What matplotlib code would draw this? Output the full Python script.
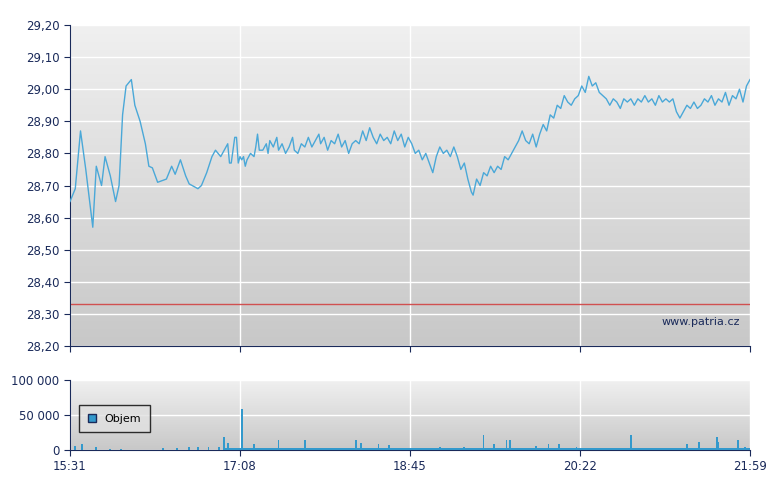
import matplotlib
matplotlib.use("Agg")
import matplotlib.pyplot as plt
import numpy as np

price_min = [0,3,6,9,13,15,18,20,23,26,28,30,32,35,37,40,43,45,47,50,55,58,60,63,66,68,73,75,78,81,83,86,89,90,91,92,93,94,95,96,97,98,99,100,101,103,105,106,107,108,110,112,113,114,116,118,119,121,123,125,127,128,130,132,134,136,138,140,142,143,145,147,149,151,153,155,157,159,161,163,165,167,169,171,173,175,177,179,181,183,185,187,189,191,193,195,197,199,201,203,205,207,209,211,213,215,217,219,221,223,225,227,229,230,232,234,236,238,240,242,244,246,248,250,252,254,256,258,260,262,264,266,268,270,272,274,276,278,280,282,284,286,288,290,292,294,296,298,300,302,304,306,308,310,312,314,316,318,320,322,324,326,328,330,332,334,336,338,340,342,344,346,348,350,352,354,356,358,360,362,364,366,368,370,372,374,376,378,380,382,384,386,388]
price_val = [28.65,28.69,28.87,28.75,28.57,28.76,28.70,28.79,28.73,28.65,28.70,28.92,29.01,29.03,28.95,28.90,28.83,28.76,28.755,28.71,28.72,28.76,28.735,28.78,28.73,28.705,28.69,28.70,28.74,28.79,28.81,28.79,28.82,28.83,28.77,28.77,28.81,28.85,28.85,28.77,28.79,28.78,28.79,28.76,28.78,28.80,28.79,28.82,28.86,28.81,28.81,28.83,28.80,28.84,28.82,28.85,28.81,28.83,28.80,28.82,28.85,28.81,28.80,28.83,28.82,28.85,28.82,28.84,28.86,28.83,28.85,28.81,28.84,28.83,28.86,28.82,28.84,28.80,28.83,28.84,28.83,28.87,28.84,28.88,28.85,28.83,28.86,28.84,28.85,28.83,28.87,28.84,28.86,28.82,28.85,28.83,28.80,28.81,28.78,28.80,28.77,28.74,28.79,28.82,28.80,28.81,28.79,28.82,28.79,28.75,28.77,28.72,28.68,28.67,28.72,28.70,28.74,28.73,28.76,28.74,28.76,28.75,28.79,28.78,28.80,28.82,28.84,28.87,28.84,28.83,28.86,28.82,28.86,28.89,28.87,28.92,28.91,28.95,28.94,28.98,28.96,28.95,28.97,28.98,29.01,28.99,29.04,29.01,29.02,28.99,28.98,28.97,28.95,28.97,28.96,28.94,28.97,28.96,28.97,28.95,28.97,28.96,28.98,28.96,28.97,28.95,28.98,28.96,28.97,28.96,28.97,28.93,28.91,28.93,28.95,28.94,28.96,28.94,28.95,28.97,28.96,28.98,28.95,28.97,28.96,28.99,28.95,28.98,28.97,29.00,28.96,29.01,29.03]

vol_min = [3,7,15,23,29,53,61,68,73,79,85,88,90,98,105,119,134,163,166,176,182,211,225,236,242,249,251,266,273,279,289,320,352,359,369,370,381,385]
vol_val = [6000,8000,5000,2000,2000,2500,3000,4000,5000,5000,5000,18000,10000,58000,8000,15000,15000,15000,10000,8000,7000,4000,5000,22000,9000,15000,15000,6000,8000,9000,5000,22000,9000,12000,18000,11000,15000,5000]
base_start, base_end, base_level = [88], [388], [3000]

ref_price = 28.33
xticks = [0, 97, 194, 291, 388]
xlabels = ["15:31", "17:08", "18:45", "20:22", "21:59"]
yticks = [28.2,28.3,28.4,28.5,28.6,28.7,28.8,28.9,29.0,29.1,29.2]
vticks = [0, 50000, 100000]

navy = "#1a2a5a"
lc = "#4aa8d8"
fig = plt.figure(figsize=(7.8, 4.9), dpi=100)
ax = fig.add_axes([70/780, 1-346/490, 680/780, 321/490])
ax2 = fig.add_axes([70/780, 1-450/490, 680/780, 70/490])

grad = np.linspace(0, 1, 256).reshape(-1, 1)
from matplotlib.colors import LinearSegmentedColormap
cm = LinearSegmentedColormap.from_list("g", ["#f0f0f0", "#c8c8c8"])
for a in (ax, ax2):
    a.imshow(grad, aspect="auto", cmap=cm, extent=[0, 1, 0, 1], transform=a.transAxes, zorder=0)
    a.set_xlim(0, 388)
    a.set_xticks(xticks)
    a.grid(True, color="white", lw=1, zorder=1)
    for s in ("top", "right"):
        a.spines[s].set_visible(False)
    a.spines["left"].set_color(navy)
    a.spines["bottom"].set_color(navy)
    a.tick_params(colors=navy, labelcolor=navy, labelsize=8.5, length=4)

ax.plot(price_min, price_val, color=lc, lw=1, zorder=3)
ax.axhline(ref_price, color="#d05050", lw=1, zorder=2)
ax.set_ylim(28.2, 29.2)
ax.set_yticks(yticks)
ax.set_yticklabels([f"{v:.2f}".replace(".", ",") for v in yticks])
ax.set_xticklabels([])
ax.text(0.985, 0.06, "www.patria.cz", transform=ax.transAxes, ha="right", va="bottom", color=navy, fontsize=8, zorder=4)

ax2.bar(vol_min, vol_val, width=1, color="#3399cc", zorder=3)
for s, e, l in zip(base_start, base_end, base_level):
    ax2.fill_between([s, e], 0, l, color="#3399cc", lw=0, zorder=3)
ax2.set_ylim(0, 100000)
ax2.set_yticks(vticks)
ax2.set_yticklabels(["0", "50 000", "100 000"])
ax2.set_xticklabels(xlabels)
leg = ax2.legend([plt.Rectangle((0, 0), 1, 1, fc="#3399cc", ec=navy)], ["Objem"], loc="center left",
                 bbox_to_anchor=(0.005, 0.45), fontsize=8, frameon=True, fancybox=False,
                 handlelength=0.7, handleheight=0.7, borderpad=0.8)
leg.get_frame().set_edgecolor("black")
leg.get_frame().set_facecolor("#e0e0e0")
fig.savefig("out.png", dpi=100)
